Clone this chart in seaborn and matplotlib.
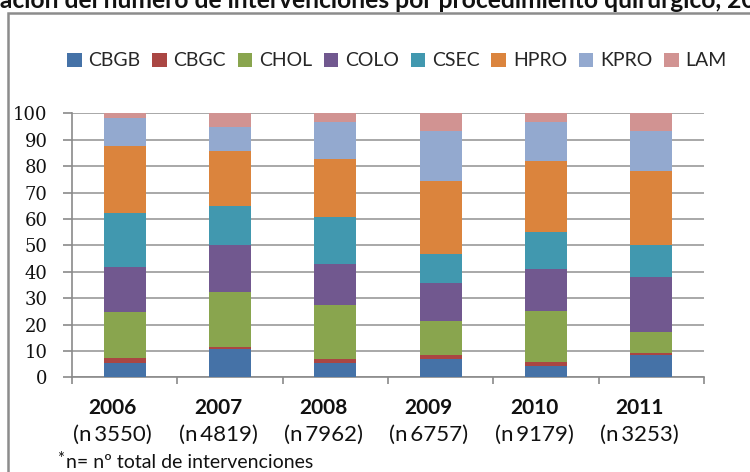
import numpy as np
import matplotlib
matplotlib.use("Agg")
import matplotlib.pyplot as plt
import matplotlib.transforms as mtransforms
from matplotlib.patches import Patch, Rectangle
import seaborn as sns
import pandas as pd

# Data: percentage share of each procedure per year
years = ["2006", "2007", "2008", "2009", "2010", "2011"]
n_totals = ["3550", "4819", "7962", "6757", "9179", "3253"]
procedures = ["CBGB", "CBGC", "CHOL", "COLO", "CSEC", "HPRO", "KPRO", "LAM"]
CBGB = [5.3, 10.6, 5.3, 6.8, 4.4, 8.3]
CBGC = [2.1, 1.0, 1.6, 1.5, 1.5, 0.9]
CHOL = [17.3, 20.7, 20.6, 12.9, 19.2, 7.8]
COLO = [17.2, 17.8, 15.4, 14.5, 15.9, 21.1]
CSEC = [20.2, 14.9, 17.7, 11.1, 14.0, 12.0]
HPRO = [25.6, 20.7, 22.2, 27.4, 26.9, 28.0]
KPRO = [10.6, 9.1, 14.0, 19.2, 14.9, 15.3]
LAM = [1.7, 5.2, 3.2, 6.6, 3.2, 6.6]
colors = ["#4572A7", "#AA4643", "#89A54E", "#71588F",
          "#4198AF", "#DB843D", "#93A9CF", "#D19392"]

title_hidden = "Vari"
title = "Variación del número de intervenciones por procedimiento quirúrgico, 2006-2011"
footnote = "n= nº total de intervenciones"

sns.set_theme(style="white")
plt.rcParams["font.family"] = ["Lato", "DejaVu Sans"]

df = pd.DataFrame({"CBGB": CBGB, "CBGC": CBGC, "CHOL": CHOL, "COLO": COLO,
                   "CSEC": CSEC, "HPRO": HPRO, "KPRO": KPRO, "LAM": LAM},
                  index=years)
cum = df.cumsum(axis=1)

fig = plt.figure(figsize=(7.5, 4.72), dpi=100)
ax = fig.add_axes([72 / 750, 1 - 377.3 / 472, 632 / 750, 264 / 472])

# draw cumulative bars from the top segment down so each covers the one below
for proc, col in reversed(list(zip(procedures, colors))):
    sns.barplot(x=years, y=cum[proc].values, color=col, width=0.4,
                saturation=1, ax=ax, zorder=3, linewidth=0)

ax.set_ylim(0, 100)
ax.set_xlim(-0.5, 5.5)
ax.set_yticks(range(0, 101, 10))
ax.yaxis.grid(True, color="#9a9a9a", linewidth=1.2, zorder=0)
ax.set_axisbelow(True)
for s in ["top", "right"]:
    ax.spines[s].set_visible(False)
for s in ["left", "bottom"]:
    ax.spines[s].set_color("#8a8a8a")
    ax.spines[s].set_linewidth(1.2)

ax.tick_params(axis="y", length=6.5, width=1.2, color="#8a8a8a", pad=11,
               left=True, labelsize=13, labelcolor="#111111",
               labelfontfamily="DejaVu Serif")

ax.set_xticks(np.arange(-0.5, 6, 1), minor=True)
ax.tick_params(axis="x", which="minor", length=5, width=1.2,
               color="#8a8a8a", bottom=True)
ax.tick_params(axis="x", which="major", length=0, pad=15, labelsize=15,
               labelcolor="#111111")
ax.set_xticks(range(len(years)))
ax.set_xticklabels(years, fontweight="bold")
shift = mtransforms.ScaledTranslation(-12 / 100, 0, fig.dpi_scale_trans)
for t in ax.get_xticklabels():
    t.set_transform(t.get_transform() + shift)
ax.set_xlabel("")
ax.set_ylabel("")

# second label line with the totals
for i, n in enumerate(n_totals):
    ax.annotate(f"(n\u2009{n})", xy=(i, 0), xycoords=("data", "axes fraction"),
                xytext=(-8.6, -41.5), textcoords="offset points",
                ha="center", va="center", fontsize=16, color="#111111")

# legend
handles = [Patch(facecolor=c, edgecolor="none", label=p)
           for p, c in zip(procedures, colors)]
fig.legend(handles=handles, loc="center", bbox_to_anchor=(0.529, 1 - 61 / 472),
           ncol=8, frameon=False, fontsize=14, handlelength=0.75,
           handleheight=0.75, handletextpad=0.35, columnspacing=0.6)

# chart border (extends past the cropped right and bottom edges)
fig.patches.append(Rectangle((8 / 750, -0.1), 1.2, 1.1 - 13 / 472,
                             transform=fig.transFigure, fill=False,
                             edgecolor="#8c8c8c", linewidth=1.8))

# cropped title: size it so "ación ... 2" fills the width, "Vari" off the left
fig.canvas.draw()
r = fig.canvas.get_renderer()
probe = fig.text(0, 0, "ación del número de intervenciones por procedimiento quirúrgico, 2",
                 fontsize=10, fontweight="bold")
fs = 10 * 745 / probe.get_window_extent(r).width
probe.remove()
probe = fig.text(0, 0, title_hidden, fontsize=fs, fontweight="bold")
w = probe.get_window_extent(r).width
probe.remove()
fig.text(-w / 750, 1 - 7.5 / 472, title, fontsize=fs, fontweight="bold",
         va="baseline", ha="left", color="#111111")

fig.text(57 / 750, 1 - 451 / 472, "*", fontsize=12, va="top", color="#111111")
fig.text(66 / 750, 1 - 468 / 472, footnote, fontsize=14, va="baseline",
         color="#111111")

fig.savefig("out.png", dpi=100)
